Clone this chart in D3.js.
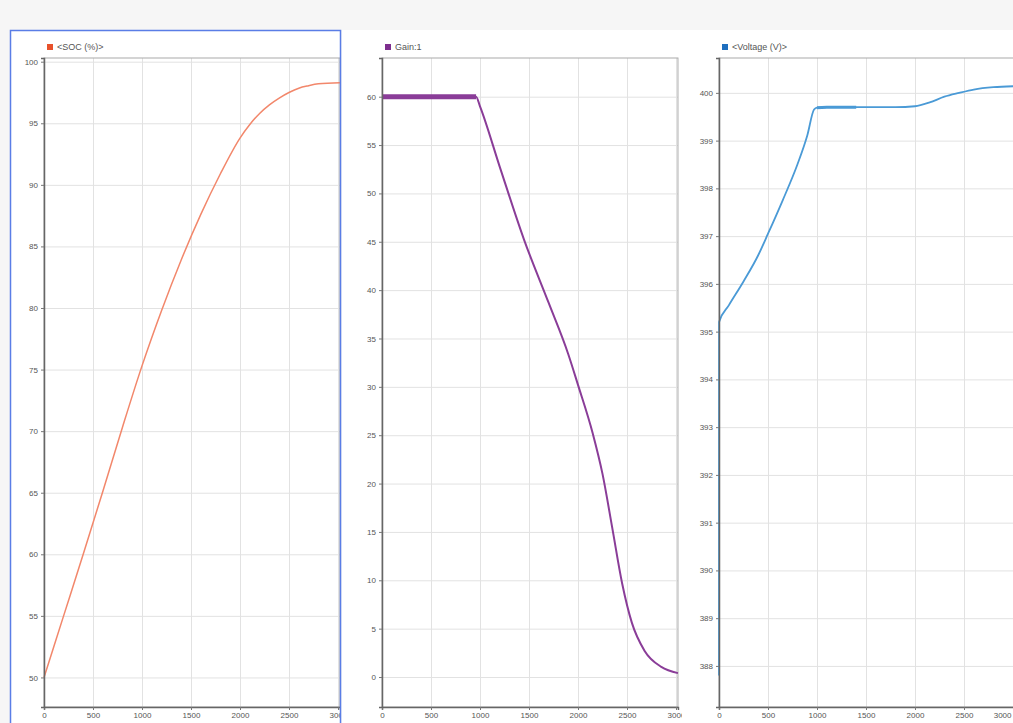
<!DOCTYPE html>
<html>
<head>
<meta charset="utf-8">
<script src="https://cdn.jsdelivr.net/npm/d3@7"></script>
<style>
  body { margin: 0; background: #f6f6f6; }
  svg { display: block; }
  .tick text { font-family: "Liberation Sans", Arial, sans-serif; font-size: 8px; fill: #555; }
  .grid line { stroke: #e2e2e2; }
  .grid path { display: none; }
  .head { font-family: "Liberation Sans", Arial, sans-serif; font-size: 9px; fill: #555; }
</style>
</head>
<body>
<div class="canvas"></div>
<script>
// time axis shared by all three scopes
const time_ticks = [0, 500, 1000, 1500, 2000, 2500, 3000];

// <SOC (%)>
const soc_time = [0, 200, 400, 600, 800, 1000, 1200, 1400, 1600, 1800, 2000, 2100, 2200, 2300, 2400, 2500, 2600, 2700, 2800, 3020];
const soc_value = [50, 55, 60, 65.1, 70.3, 75.3, 79.8, 83.9, 87.6, 90.9, 93.8, 94.9, 95.8, 96.5, 97.05, 97.5, 97.85, 98.05, 98.2, 98.3];
const soc_ticks = [50, 55, 60, 65, 70, 75, 80, 85, 90, 95, 100];

// Gain:1
const gain_time = [0, 960, 1000, 1200, 1450, 1700, 1900, 2000, 2150, 2250, 2350, 2450, 2550, 2680, 2850, 3020];
const gain_value = [60, 60, 59.0, 52.8, 45.2, 38.7, 33.4, 30.2, 25.2, 21.0, 15.4, 9.7, 5.6, 2.7, 1.05, 0.4];
const gain_ticks = [0, 5, 10, 15, 20, 25, 30, 35, 40, 45, 50, 55, 60];

// <Voltage (V)>
const volt_time = [0, 1, 100, 250, 400, 500, 650, 800, 900, 970, 1000, 1100, 1400, 1800, 2000, 2150, 2300, 2450, 2600, 2800, 3020];
const volt_value = [387.8, 395.2, 395.55, 396.05, 396.6, 397.05, 397.75, 398.5, 399.1, 399.65, 399.69, 399.7, 399.7, 399.7, 399.72, 399.8, 399.92, 400.0, 400.07, 400.12, 400.14];
const volt_ticks = [388, 389, 390, 391, 392, 393, 394, 395, 396, 397, 398, 399, 400];

const width = 1013, height = 723;
const plot_top = 58, plot_bottom = 707;

const svg = d3.select(".canvas")
  .append("svg")
  .attr("width", width)
  .attr("height", height);

const panels = [
  { name: "<SOC (%)>", key: "#e8512b", color: "#f2876b", px: 10, pw: 331, left: 44,
    t: soc_time, v: soc_value, ticks: soc_ticks, y0: 47.6, y1: 100.3, width: 1.5, border: true },
  { name: "Gain:1", key: "#7e2f8e", color: "#8a3d98", px: 342, pw: 340, left: 382,
    t: gain_time, v: gain_value, ticks: gain_ticks, y0: -3.1, y1: 64, width: 2, ripple: [0, 960] },
  { name: "<Voltage (V)>", key: "#1f6fbf", color: "#4a9ad6", px: 682, pw: 331, left: 719,
    t: volt_time, v: volt_value, ticks: volt_ticks, y0: 387.14, y1: 400.73, width: 1.8, ripple: [1000, 1400], lastEnd: true }
];

panels.forEach(function(p, i) {
  svg.append("clipPath").attr("id", "clip" + i)
    .append("rect").attr("x", p.px).attr("y", 30).attr("width", p.pw).attr("height", height - 30);

  const g = svg.append("g").attr("clip-path", `url(#clip${i})`);

  g.append("rect")
    .attr("x", p.px).attr("y", 30)
    .attr("width", p.pw).attr("height", height - 30)
    .attr("fill", "#fff");

  const x = d3.scaleLinear().domain([0, 3020]).range([p.left, p.left + 3020 * 49 / 500]);
  const y = d3.scaleLinear().domain([p.y0, p.y1]).range([plot_bottom, plot_top]);

  // grid
  g.append("g").attr("class", "grid")
    .attr("transform", `translate(0, ${plot_bottom})`)
    .call(d3.axisBottom(x).tickValues(time_ticks).tickSize(-(plot_bottom - plot_top)).tickFormat(""));
  g.append("g").attr("class", "grid")
    .attr("transform", `translate(${p.left}, 0)`)
    .call(d3.axisLeft(y).tickValues(p.ticks).tickSize(-(x(3020) - p.left)).tickFormat(""));

  // plot frame
  g.append("rect")
    .attr("x", p.left).attr("y", plot_top)
    .attr("width", x(3020) - p.left).attr("height", plot_bottom - plot_top)
    .attr("fill", "none").attr("stroke", "#aaa");

  const line = d3.line()
    .x((d, j) => x(p.t[j]))
    .y(d => y(d))
    .curve(d3.curveMonotoneX);

  if (p.ripple) {
    const idx = p.t.map((d, j) => j).filter(j => p.t[j] >= p.ripple[0] && p.t[j] <= p.ripple[1]);
    g.append("path")
      .attr("d", d3.line().x(j => x(p.t[j])).y(j => y(p.v[j]))(idx))
      .attr("fill", "none")
      .attr("stroke", p.color)
      .attr("stroke-width", i === 1 ? 5 : 3);
  }

  g.append("path")
    .attr("d", line(p.v))
    .attr("fill", "none")
    .attr("stroke", p.color)
    .attr("stroke-width", p.width);

  // axes
  const ax = g.append("g")
    .attr("transform", `translate(0, ${plot_bottom})`)
    .call(d3.axisBottom(x).tickValues(time_ticks).tickFormat(d3.format("d")).tickSize(3).tickPadding(2));
  const ay = g.append("g")
    .attr("transform", `translate(${p.left}, 0)`)
    .call(d3.axisLeft(y).tickValues(p.ticks).tickSize(3).tickPadding(3));
  [ax, ay].forEach(a => {
    a.select(".domain").attr("stroke", "#666").attr("stroke-width", 1.5);
    a.selectAll(".tick line").attr("stroke", "#777");
  });
  if (p.lastEnd) {
    ax.selectAll(".tick text").filter(d => d === 3000).attr("text-anchor", "end").attr("dx", -2);
  }

  // legend header
  g.append("rect")
    .attr("x", p.left + 3).attr("y", 44)
    .attr("width", 6).attr("height", 6)
    .attr("fill", p.key);
  g.append("text")
    .attr("class", "head")
    .attr("x", p.left + 13).attr("y", 50)
    .text(p.name);

  if (p.border) {
    svg.append("rect")
      .attr("x", p.px + 0.5).attr("y", 30.5)
      .attr("width", p.pw - 1).attr("height", height)
      .attr("fill", "none")
      .attr("stroke", "#5a7de6")
      .attr("stroke-width", 1.5);
  }
});
</script>
</body>
</html>
